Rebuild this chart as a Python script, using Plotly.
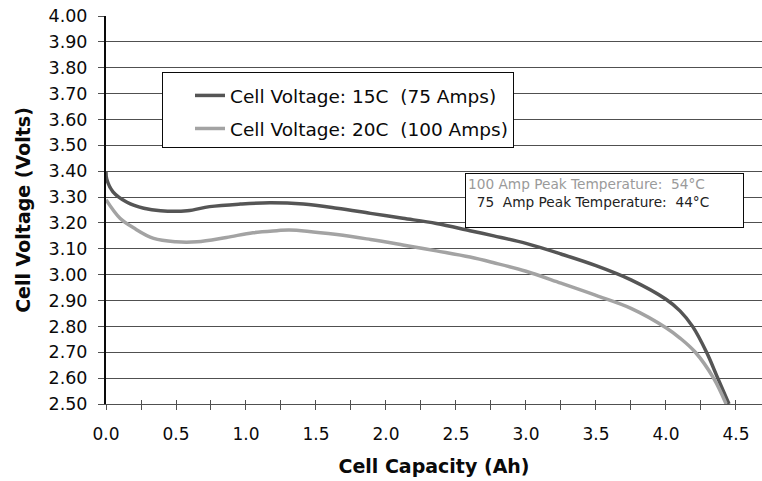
import plotly.graph_objects as go

# Discharge curves: capacity (Ah) vs cell voltage (V)
cap_15c = [0.0, 0.005, 0.05, 0.15, 0.27, 0.39, 0.58, 0.74, 0.96, 1.17, 1.41, 1.65,
           1.89, 2.12, 2.36, 2.60, 2.77, 3.00, 3.25, 3.50, 3.75, 4.00, 4.10, 4.19,
           4.29, 4.37, 4.45]
volt_15c = [3.40, 3.37, 3.32, 3.28, 3.257, 3.247, 3.247, 3.263, 3.273, 3.278, 3.273,
            3.257, 3.237, 3.218, 3.198, 3.17, 3.15, 3.121, 3.08, 3.035, 2.98, 2.905,
            2.86, 2.80, 2.70, 2.60, 2.50]

cap_20c = [0.0, 0.1, 0.2, 0.34, 0.5, 0.65, 0.86, 1.05, 1.22, 1.31, 1.65, 1.89, 2.12,
           2.36, 2.60, 2.77, 3.00, 3.25, 3.50, 3.75, 4.00, 4.10, 4.21, 4.34, 4.43]
volt_20c = [3.29, 3.218, 3.18, 3.14, 3.127, 3.127, 3.144, 3.162, 3.17, 3.173, 3.155,
            3.136, 3.115, 3.092, 3.068, 3.046, 3.013, 2.967, 2.92, 2.87, 2.795,
            2.755, 2.70, 2.60, 2.50]

name_15c = "Cell Voltage: 15C\u00a0\u00a0(75 Amps)"
name_20c = "Cell Voltage: 20C\u00a0\u00a0(100 Amps)"

x_ticks = [i * 0.25 for i in range(19)]
x_labels = [f"{v:.1f}" if i % 2 == 0 else "" for i, v in enumerate(x_ticks)]
y_ticks = [round(2.5 + i * 0.1, 2) for i in range(16)]
y_labels = [f"{v:.2f}" for v in y_ticks]

temp_lines = [
    ("100 Amp Peak Temperature:\u00a0\u00a054°C", "#9a9a9a"),
    ("\u00a0\u00a075\u00a0\u00a0Amp Peak Temperature:\u00a0\u00a044°C", "#222222"),
]

FONT = "DejaVu Sans"
GRID = "#505050"
INK = "#0a0a0a"

fig = go.Figure()
fig.add_trace(go.Scatter(x=cap_15c, y=volt_15c, mode="lines", name=name_15c,
                         legendgroup="a",
                         line=dict(color="#555555", width=3.5, shape="spline", smoothing=1.0)))
fig.add_trace(go.Scatter(x=cap_20c, y=volt_20c, mode="lines", name=name_20c,
                         legendgroup="b",
                         line=dict(color="#a3a3a3", width=3.5, shape="spline", smoothing=1.0)))
# carrier for the inward half of the x tick marks
fig.add_trace(go.Scatter(x=[], y=[], xaxis="x2", showlegend=False))

fig.update_layout(
    width=762, height=481,
    margin=dict(l=106, r=0, t=16, b=77),
    paper_bgcolor="white", plot_bgcolor="white",
    font=dict(family=FONT, color=INK),
    showlegend=True,
    legend=dict(
        x=(162 - 106) / 656, y=(404 - 72) / 388, xanchor="left", yanchor="top",
        bgcolor="white", bordercolor=INK, borderwidth=1,
        font=dict(family=FONT, size=18.5, color=INK),
        title=dict(text="\u00a0", font=dict(size=3)),
        tracegroupgap=6, traceorder="grouped", indentation=27,
    ),
    xaxis=dict(
        range=[0, 4.686], tickvals=x_ticks, ticktext=x_labels,
        ticks="outside", ticklen=5, tickcolor=GRID, tickwidth=1,
        showline=True, linecolor=GRID, linewidth=1,
        showgrid=False, zeroline=False,
        tickfont=dict(family=FONT, size=17, color=INK),
        ticklabelstandoff=10,
        title=dict(text="<b>Cell Capacity (Ah)</b>", standoff=16,
                   font=dict(family=FONT, size=19, color=INK)),
    ),
    xaxis2=dict(
        overlaying="x", matches="x", side="bottom", anchor="y",
        tickvals=x_ticks, showticklabels=False,
        ticks="inside", ticklen=4, tickcolor=GRID, tickwidth=1,
        showgrid=False, zeroline=False, showline=False,
    ),
    yaxis=dict(
        range=[2.5, 4.0], tickvals=y_ticks, ticktext=y_labels,
        ticks="outside", ticklen=6, tickcolor=GRID, tickwidth=1,
        showgrid=True, gridcolor=GRID, gridwidth=1,
        showline=True, linecolor=INK, linewidth=2,
        zeroline=False,
        tickfont=dict(family=FONT, size=17.5, color=INK),
        ticklabelstandoff=7,
        title=dict(text="<b>Cell Voltage (Volts)</b>", standoff=13,
                   font=dict(family=FONT, size=19, color=INK)),
    ),
    annotations=[dict(
        xref="paper", yref="paper",
        x=(465 - 106) / 656, y=(404 - 173) / 388, xanchor="left", yanchor="top",
        text="<br>".join(f"<span style='color:{c}'>{t}</span>" for t, c in temp_lines),
        align="left", valign="top", showarrow=False,
        width=273, height=49,
        bgcolor="white", bordercolor=INK, borderwidth=1, borderpad=2,
        font=dict(family=FONT, size=13.7, color="#222222"),
    )],
)

fig.write_html("out.html")
